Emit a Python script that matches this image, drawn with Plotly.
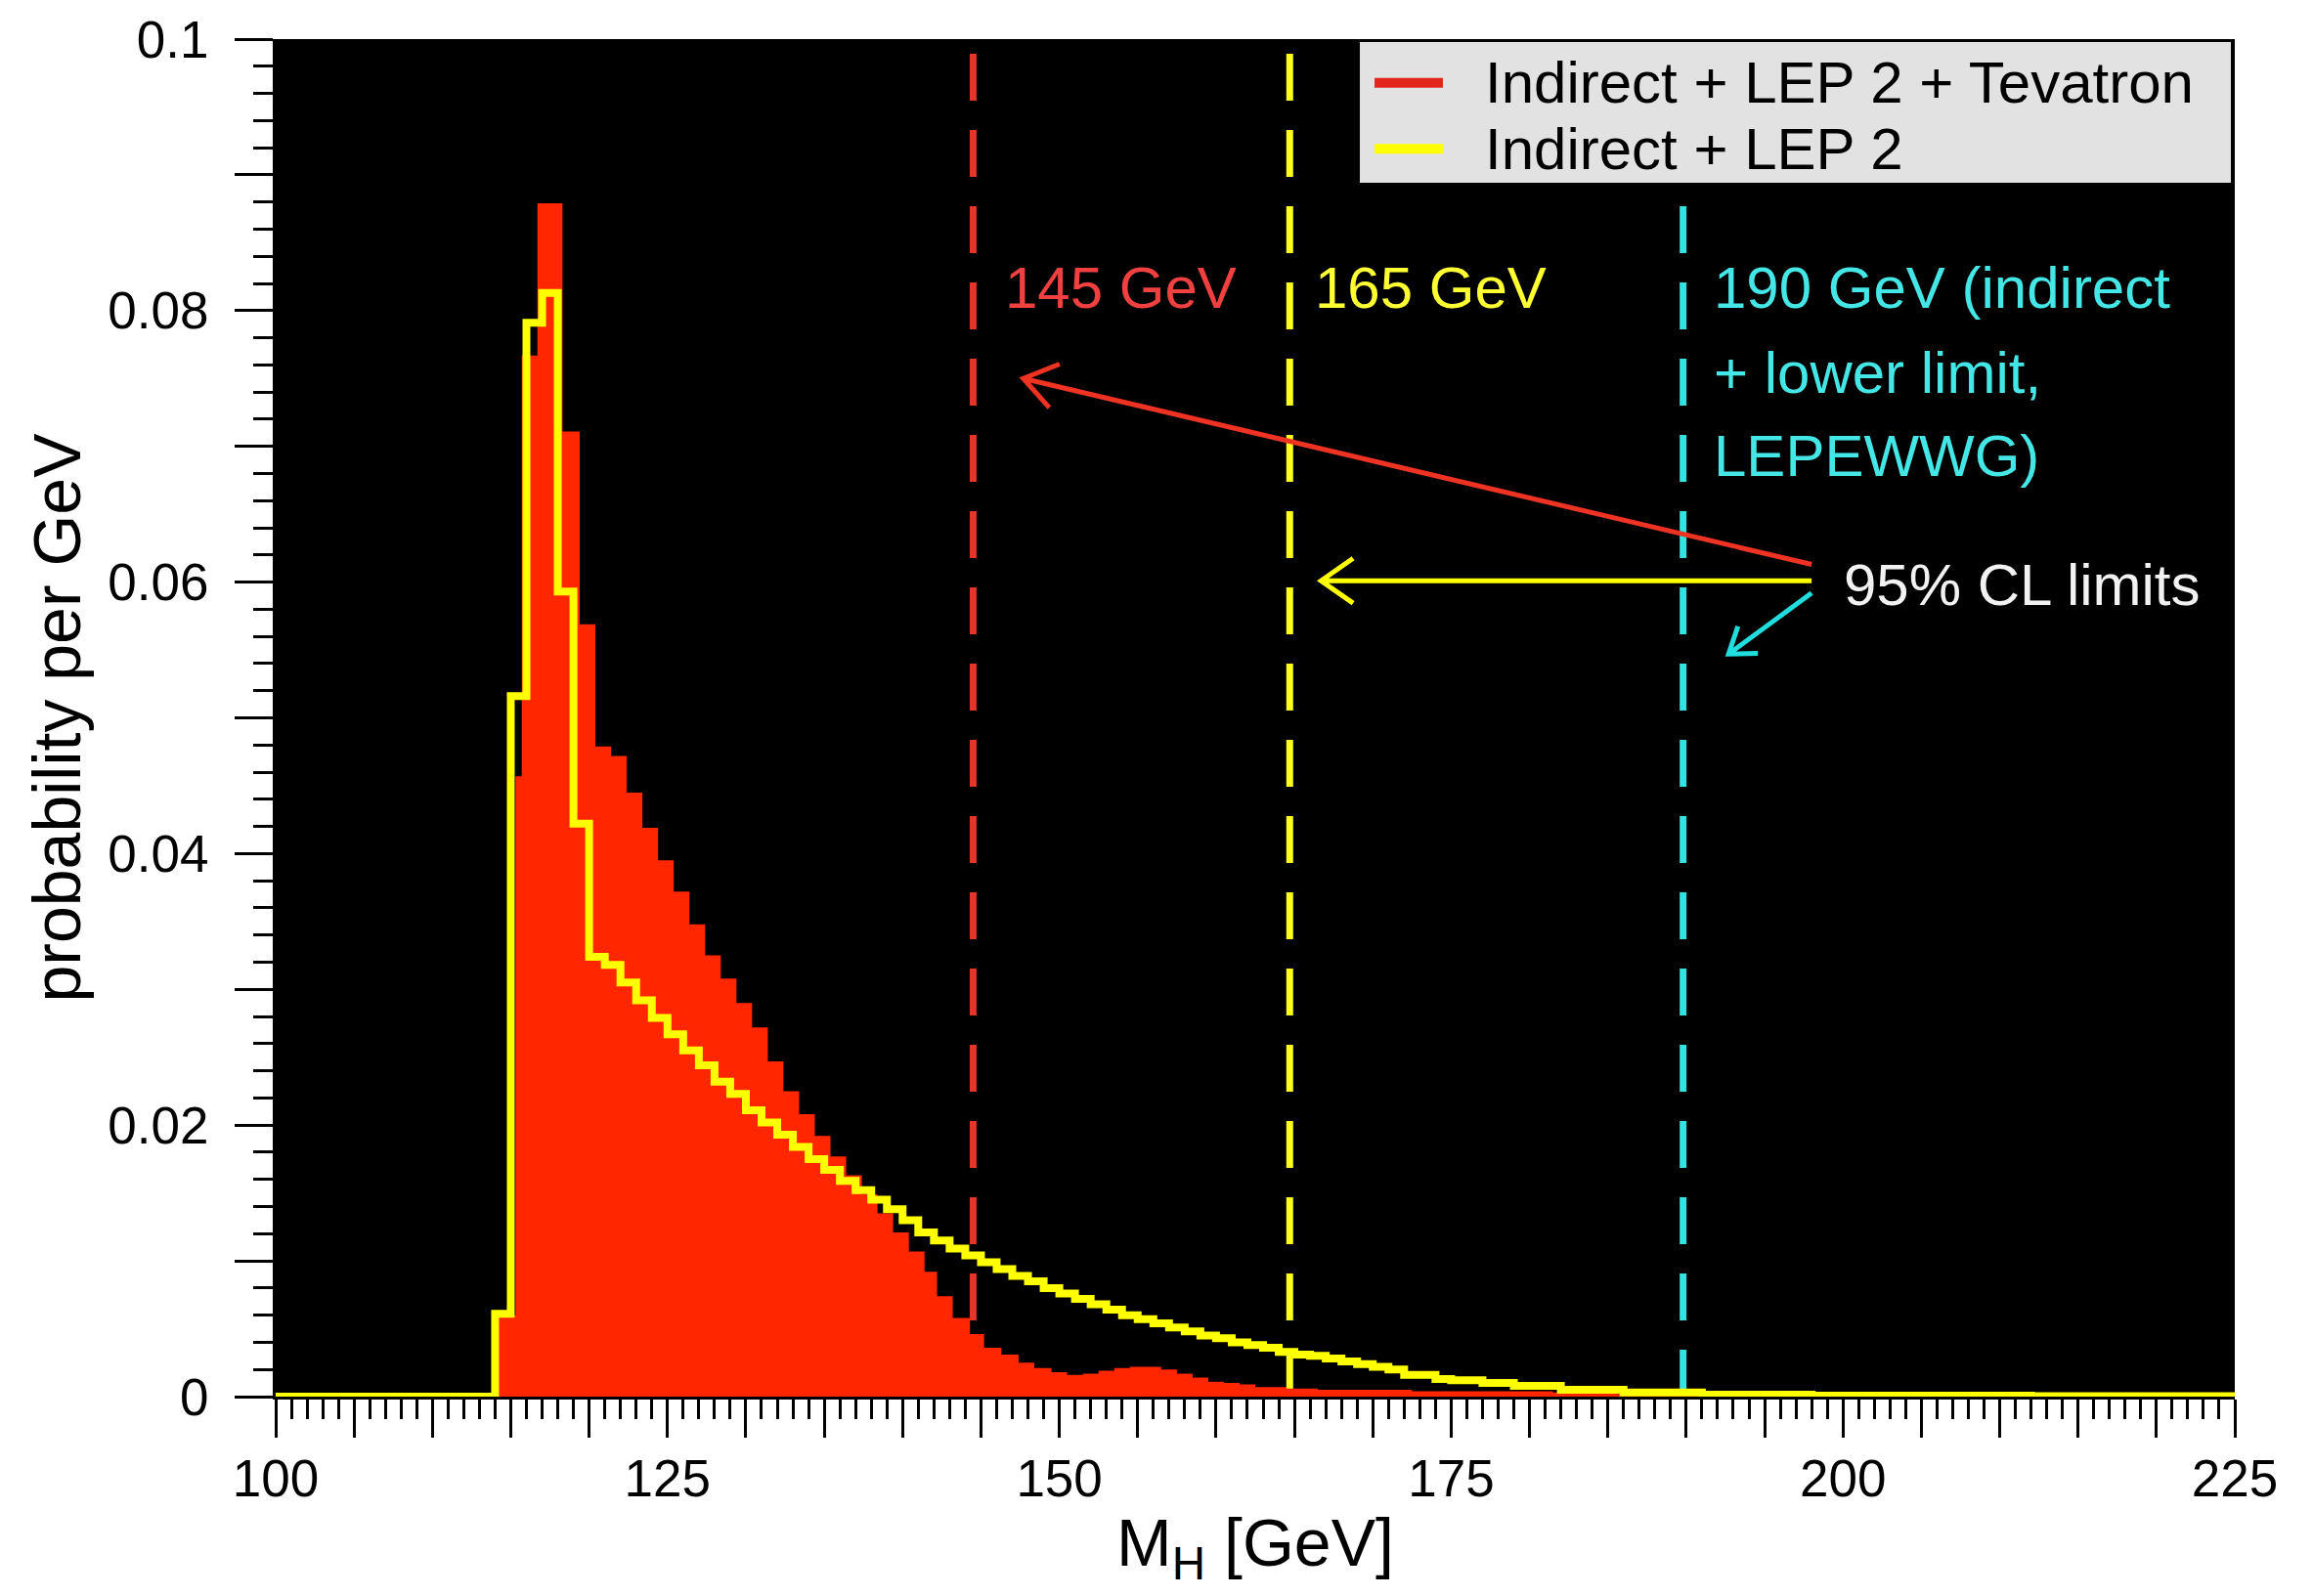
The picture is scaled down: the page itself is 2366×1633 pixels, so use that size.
import math
import plotly.graph_objects as go

# ---------------- data ----------------
# Indirect + LEP 2 (yellow outline), 1 GeV bins, lower bin edges 100..224
yellow_bin_low = list(range(100, 225))
yellow_prob = [
    0, 0, 0, 0, 0, 0, 0, 0, 0, 0, 0, 0, 0, 0,            # 100-113
    0.0061, 0.0516, 0.0791, 0.0813, 0.0593, 0.0422,      # 114-119
    0.0324, 0.0318, 0.0305, 0.0292, 0.0279, 0.0267, 0.0255, 0.0244, 0.0232, 0.0223,  # 120-129
    0.0211, 0.0202, 0.0193, 0.0184, 0.0175, 0.0167, 0.0159, 0.0152, 0.0145, 0.0138,  # 130-139
    0.0130, 0.0121, 0.0115, 0.0109, 0.0104, 0.0099, 0.0094, 0.0089, 0.0085, 0.0080,  # 140-149
    0.0076, 0.0072, 0.0068, 0.0064, 0.0060, 0.0057, 0.0054, 0.0051, 0.0048, 0.0045,  # 150-159
    0.0043, 0.0040, 0.0038, 0.0036, 0.0033, 0.0031, 0.0030, 0.0028, 0.0026, 0.0024,  # 160-169
    0.0022, 0.0020, 0.0016, 0.0016, 0.0013, 0.0012, 0.0012, 0.0010, 0.0010, 0.0008,  # 170-179
    0.0008, 0.0008, 0.0005, 0.0005, 0.0005, 0.0005, 0.0003, 0.0003, 0.0003, 0.0003,  # 180-189
    0.0003, 0.00015, 0.00015, 0.00015, 0.00015, 0.00015, 0.00015, 0.00015,           # 190-197
    0.00008, 0.00008, 0.00008, 0.00008, 0.00008, 0.00008, 0.00008,                   # 198-204
    0.00008, 0.00008, 0.00008, 0.00008, 0.00008, 0.00008, 0.00008,                   # 205-211
    0.00003, 0.00003, 0.00003, 0.00003, 0.00003, 0.00003, 0.00003,                   # 212-218
    0.00003, 0.00003, 0.00003, 0.00003, 0.00003, 0.00003,                            # 219-224
]
yellow_upper_edge = 225

# Indirect + LEP 2 + Tevatron (red filled), bin edges as drawn
red_edges = [114.2, 115.3, 115.7, 116.7, 118.3, 119.4, 120.4, 121.4, 122.4, 123.4,
             124.4, 125.4, 126.4, 127.4, 128.4, 129.4, 130.4, 131.4, 132.4, 133.4,
             134.4, 135.4, 136.4, 137.4, 138.4, 139.4, 140.4, 141.4, 142.2, 143.2,
             144.3, 145.2, 146.3, 147.4, 148.4, 149.5, 150.5, 151.5, 152.5, 153.5,
             154.5, 155.5, 156.5, 157.5, 158.5, 159.5, 160.5, 161.5, 162.5, 163.5,
             164.5, 166.5, 172.5, 181.5, 185.5, 190.5, 200.5, 225.0]
red_prob = [0.0060, 0.0457, 0.0767, 0.0879, 0.0711, 0.0569, 0.0479, 0.0472, 0.0445, 0.0419,
            0.0395, 0.0372, 0.0348, 0.0325, 0.0308, 0.0290, 0.0272, 0.0247, 0.0225, 0.0208,
            0.0192, 0.0177, 0.0163, 0.0149, 0.0135, 0.0121, 0.0107, 0.0092, 0.0074, 0.0058,
            0.0046, 0.0036, 0.0031, 0.0025, 0.0021, 0.0018, 0.0016, 0.0017, 0.0019, 0.0021,
            0.0022, 0.0022, 0.0020, 0.0017, 0.0014, 0.0011, 0.0010, 0.0009, 0.0007, 0.0007,
            0.0006, 0.0005, 0.0004, 0.0003, 0.0002, 0.0001, 0.0]

# 95% CL limit lines (positions as drawn)
limit_x = [144.5, 164.7, 189.8]
limit_colors = ["#e8352b", "#ffff1e", "#33e3e3"]

legend_labels = ["Indirect + LEP 2 + Tevatron", "Indirect + LEP 2"]
legend_colors = ["#e3261c", "#ffff00"]

x_tick_vals = list(range(100, 226, 5))
x_tick_text = [str(v) if v % 25 == 0 else "" for v in x_tick_vals]
y_tick_vals = [0, 0.01, 0.02, 0.03, 0.04, 0.05, 0.06, 0.07, 0.08, 0.09, 0.1]
y_tick_text = ["0", "", "0.02", "", "0.04", "", "0.06", "", "0.08", "", "0.1"]

X_RANGE = [100, 225]
Y_RANGE = [0, 0.1]

# ---------------- figure ----------------
FONT = "Liberation Sans, Arial, Helvetica, sans-serif"
RED_FILL = "#ff2600"
YELLOW = "#ffff00"

# the page adds an 8 px body margin, so the figure is laid out 8 px smaller
W, H = 2358, 1625
ML, MR, MT, MB = 274, 80, 32, 204
PW, PH = W - ML - MR, H - MT - MB
px_per_x = PW / (X_RANGE[1] - X_RANGE[0])
px_per_y = PH / (Y_RANGE[1] - Y_RANGE[0])

fig = go.Figure()

fig.add_trace(go.Scatter(
    x=red_edges, y=red_prob + [0.0],
    mode="lines", line=dict(shape="hv", width=0, color=RED_FILL),
    fill="tozeroy", fillcolor=RED_FILL,
    name=legend_labels[0], showlegend=False, hoverinfo="skip"))

fig.add_trace(go.Scatter(
    x=yellow_bin_low + [yellow_upper_edge], y=yellow_prob + [yellow_prob[-1]],
    mode="lines", line=dict(shape="hv", width=8, color=YELLOW),
    name=legend_labels[1], showlegend=False, hoverinfo="skip"))

shapes = []
for xv, col in zip(limit_x, limit_colors):
    shapes.append(dict(type="line", xref="x", yref="paper", x0=xv, x1=xv, y0=0, y1=1,
                       line=dict(color=col, width=7, dash="48px,30px"), layer="below"))

# legend box (gray box in top-right of the plot, as in the reference)
shapes.append(dict(type="rect", xref="paper", yref="paper",
                   x0=0.5534, x1=0.998, y0=0.8942, y1=0.9979,
                   fillcolor="#e2e2e2", line=dict(width=0), layer="above"))
legend_rows_y = [0.9678, 0.9192]
for yy, col in zip(legend_rows_y, legend_colors):
    shapes.append(dict(type="line", xref="paper", yref="paper",
                       x0=0.5609, x1=0.5958, y0=yy, y1=yy,
                       line=dict(color=col, width=10), layer="above"))

# arrows from the "95% CL limits" label towards the three limit lines
arrows = [
    # head x, head y, tail x, tail y, colour, head arm length (px)
    (147.7, 0.0750, 198.0, 0.0613, "#ee3322", 40),
    (166.7, 0.0601, 198.0, 0.0601, "#ffff00", 40),
    (192.7, 0.0547, 198.0, 0.0592, "#22dddd", 30),
]


def arrow_path(hx, hy, tx, ty, arm_px, ang_deg=35):
    # work in pixel space so the head keeps its shape
    hX, hY = hx * px_per_x, hy * px_per_y
    tX, tY = tx * px_per_x, ty * px_per_y
    dx, dy = tX - hX, tY - hY
    n = math.hypot(dx, dy)
    ux, uy = dx / n, dy / n
    pts = []
    for s in (1, -1):
        a = math.radians(ang_deg) * s
        rx = ux * math.cos(a) - uy * math.sin(a)
        ry = ux * math.sin(a) + uy * math.cos(a)
        pts.append(((hX + arm_px * rx) / px_per_x, (hY + arm_px * ry) / px_per_y))
    (a1x, a1y), (a2x, a2y) = pts
    return (f"M {a1x},{a1y} L {hx},{hy} L {a2x},{a2y} "
            f"M {hx},{hy} L {tx},{ty}")


for hx, hy, tx, ty, col, arm in arrows:
    shapes.append(dict(type="path", xref="x", yref="y",
                       path=arrow_path(hx, hy, tx, ty, arm),
                       line=dict(color=col, width=5), layer="above"))

annotations = []
for yy, lab in zip(legend_rows_y, legend_labels):
    annotations.append(dict(xref="paper", yref="paper", x=0.6163, y=yy, text=lab,
                            showarrow=False, xanchor="left", yanchor="middle",
                            font=dict(family=FONT, size=60, color="black")))

text_items = [
    ("145 GeV", 146.4, 0.0817, "#f04040"),
    ("165 GeV", 166.2, 0.0817, "#ffff33"),
    ("190 GeV (indirect", 191.6, 0.0817, "#44e6e6"),
    ("+ lower limit,", 191.6, 0.0754, "#44e6e6"),
    ("LEPEWWG)", 191.6, 0.0693, "#44e6e6"),
    ("95% CL limits", 199.9, 0.0598, "#f2f2f2"),
]
for txt, xx, yy, col in text_items:
    annotations.append(dict(x=xx, y=yy, xref="x", yref="y", text=txt, showarrow=False,
                            xanchor="left", yanchor="middle",
                            font=dict(family=FONT, size=60, color=col)))

fig.update_layout(
    width=W, height=H,
    margin=dict(l=ML, r=MR, t=MT, b=MB, autoexpand=False),
    paper_bgcolor="white", plot_bgcolor="black",
    font=dict(family=FONT, color="black"),
    showlegend=False,
    shapes=shapes, annotations=annotations,
)

fig.update_xaxes(
    range=X_RANGE, showgrid=False, zeroline=False, automargin=False,
    showline=True, linecolor="black", linewidth=3,
    ticks="outside", ticklen=39, tickwidth=3, tickcolor="black",
    tickvals=x_tick_vals, ticktext=x_tick_text,
    tickfont=dict(family=FONT, size=53, color="black"),
    ticklabelstandoff=-4, ticklabeloverflow="allow",
    minor=dict(dtick=1, tick0=100, ticks="outside", ticklen=20, tickwidth=3,
               tickcolor="black", showgrid=False),
    title=dict(text="M<sub>H</sub> [GeV]", font=dict(family=FONT, size=68, color="black"),
               standoff=14),
)
fig.update_yaxes(
    range=Y_RANGE, showgrid=False, zeroline=False, automargin=False,
    showline=True, linecolor="black", linewidth=3,
    ticks="outside", ticklen=39, tickwidth=3, tickcolor="black",
    tickvals=y_tick_vals, ticktext=y_tick_text,
    tickfont=dict(family=FONT, size=53, color="black"),
    ticklabelstandoff=16, ticklabeloverflow="allow",
    minor=dict(dtick=0.002, tick0=0, ticks="outside", ticklen=20, tickwidth=3,
               tickcolor="black", showgrid=False),
    title=dict(text="probability per GeV", font=dict(family=FONT, size=68, color="black"),
               standoff=6),
)

fig.write_html("out.html")
